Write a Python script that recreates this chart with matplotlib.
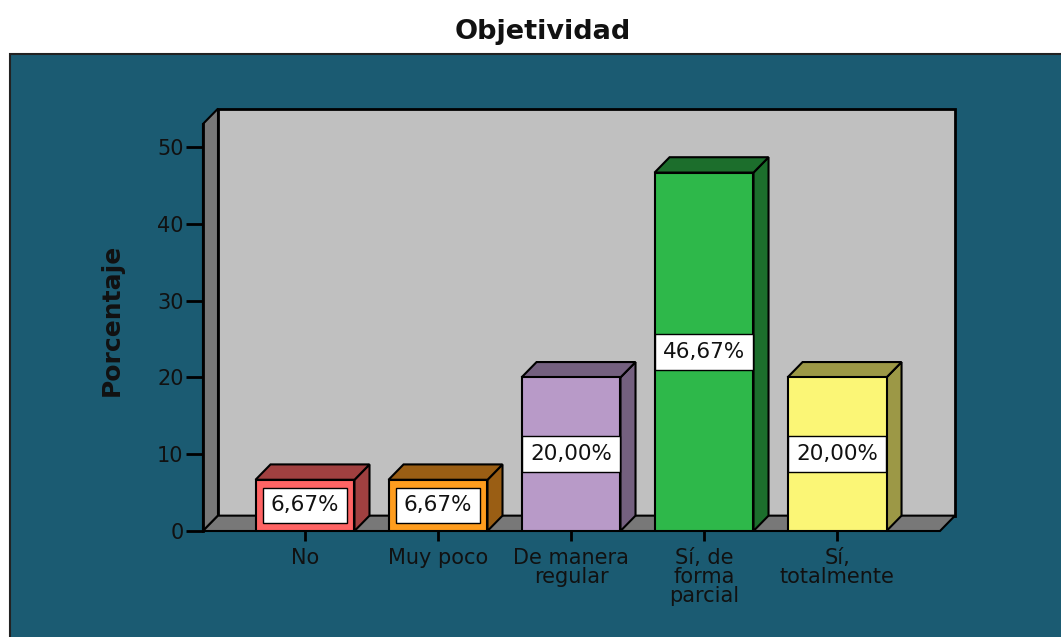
import matplotlib.pyplot as plt
from matplotlib.patches import Polygon, Rectangle

categorias = ["No", "Muy poco", "De manera\nregular", "Sí, de\nforma\nparcial", "Sí,\ntotalmente"]
porcentajes = [6.67, 6.67, 20.00, 46.67, 20.00]
colores_frente = ["#ff6464", "#ff9d1e", "#b89ac8", "#2eb84a", "#fbf676"]
colores_lado = ["#a04040", "#9a5e14", "#74607f", "#1c6e2c", "#9c9846"]
yticks = [0, 10, 20, 30, 40, 50]

# 3D look: depth offset in data units
dx, dy = 0.113, 2.0
ancho = 0.744
xmin, xmax = -0.767, 4.774
ytop = 53

fig = plt.figure(figsize=(10.61, 6.37), dpi=100)
fig.patch.set_facecolor("white")
fig.patches.append(Rectangle((0.0094, -0.05), 1.1, 0.965, transform=fig.transFigure,
                             facecolor="#1b5b72", edgecolor="#222222", lw=1.5, zorder=-10))

ax = fig.add_axes([0.1913, 0.1664, 0.7088, 0.6631])
ax.set_zorder(5)
ax.set_facecolor("none")
ax.set_xlim(xmin, xmax + dx)
ax.set_ylim(0, ytop + dy)

# back wall, left wall, floor
ax.add_patch(Rectangle((xmin + dx, dy), xmax - xmin, ytop, facecolor="#c0c0c0",
                       edgecolor="black", lw=2, zorder=1, clip_on=False))
ax.add_patch(Polygon([(xmin, 0), (xmin, ytop), (xmin + dx, ytop + dy), (xmin + dx, dy)],
                     facecolor="#787878", edgecolor="black", lw=1.5, zorder=2, clip_on=False))
ax.add_patch(Polygon([(xmin, 0), (xmax, 0), (xmax + dx, dy), (xmin + dx, dy)],
                     facecolor="#787878", edgecolor="black", lw=1.5, zorder=2, clip_on=False))

x = list(range(len(categorias)))
ax.bar(x, porcentajes, width=ancho, color=colores_frente, edgecolor="black", lw=1.5, zorder=4)
for xi, v, cl in zip(x, porcentajes, colores_lado):
    l, r = xi - ancho / 2, xi + ancho / 2
    ax.add_patch(Polygon([(r, 0), (r + dx, dy), (r + dx, v + dy), (r, v)],
                         facecolor=cl, edgecolor="black", lw=1.5, zorder=3))
    ax.add_patch(Polygon([(l, v), (l + dx, v + dy), (r + dx, v + dy), (r, v)],
                         facecolor=cl, edgecolor="black", lw=1.5, zorder=3))
    ax.text(xi, v / 2, f"{v:.2f}".replace(".", ",") + "%", ha="center", va="center",
            fontsize=15.5, color="#111111", zorder=6,
            bbox=dict(boxstyle="square,pad=0.36", facecolor="white", edgecolor="black", lw=1))

for s in ["top", "right", "bottom"]:
    ax.spines[s].set_visible(False)
ax.spines["left"].set_bounds(0, ytop)
ax.spines["left"].set_linewidth(2)
ax.spines["left"].set_zorder(5)

ax.set_yticks(yticks)
ax.set_xticks(x)
ax.set_xticklabels(categorias, linespacing=0.95)
ax.tick_params(axis="y", length=12, width=2, pad=2, labelsize=15, labelcolor="#111111")
ax.tick_params(axis="x", length=7, width=2, pad=5, labelsize=15, labelcolor="#111111")
ax.set_ylabel("Porcentaje", fontsize=18, fontweight="bold", labelpad=24, color="#111111")

fig.text(0.512, 0.95, "Objetividad", ha="center", va="center", fontsize=19.5,
         fontweight="bold", color="#111111")

fig.savefig("out.png", dpi=100)
